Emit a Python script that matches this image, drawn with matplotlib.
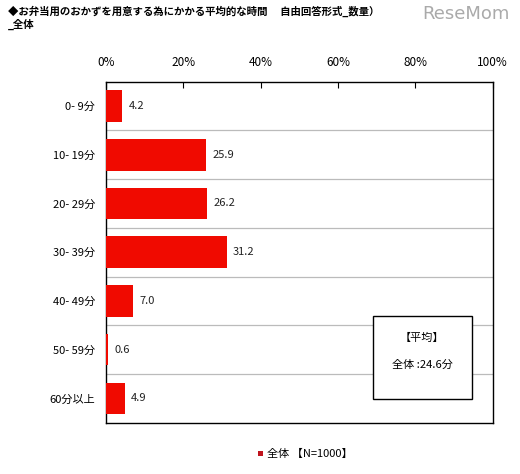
import matplotlib
matplotlib.use("Agg")
import matplotlib.pyplot as plt
from matplotlib.patches import Rectangle

plt.rcParams['font.family'] = ['Noto Sans CJK JP', 'DejaVu Sans']

categories = ["0- 9分", "10- 19分", "20- 29分", "30- 39分", "40- 49分", "50- 59分", "60分以上"]
values = [4.2, 25.9, 26.2, 31.2, 7.0, 0.6, 4.9]
xticks = [0, 20, 40, 60, 80, 100]
xtick_labels = ["0%", "20%", "40%", "60%", "80%", "100%"]
title = "◆お弁当用のおかずを用意する為にかかる平均的な時間　 自由回答形式_数量）\n_全体"
legend_label = "全体 【N=1000】"
mean_title = "【平均】"
mean_text = "全体 :24.6分"

fig = plt.figure(figsize=(5.2, 4.74), dpi=100)
ax = fig.add_axes([106/520, 1-422.7/474, (492.5-106)/520, (422.7-81.7)/474])

n = len(categories)
ypos = list(range(n))
ax.barh(ypos, values, height=0.65, color="#f00a00", zorder=3)
for y, v in zip(ypos, values):
    ax.text(v + 1.6, y, f"{v:.1f}", va="center", ha="left", fontsize=8, color="#222222")

ax.set_xlim(0, 100)
ax.set_ylim(n - 0.5, -0.5)
ax.set_yticks(ypos)
ax.set_yticklabels(categories, fontsize=8)
ax.tick_params(axis="y", length=0, pad=8)
ax.xaxis.tick_top()
ax.set_xticks(xticks)
ax.set_xticklabels(xtick_labels, fontsize=8.5)
ax.tick_params(axis="x", direction="in", length=4, pad=9, width=0.8)
for b in [i + 0.5 for i in range(n - 1)]:
    ax.axhline(b, color="#bbbbbb", lw=0.9, zorder=1)
for s in ax.spines.values():
    s.set_linewidth(1.0)
    s.set_color("black")

# mean box
fig.patches.append(Rectangle((373/520, 1-399/474), (472-373)/520, (399-316)/474,
                             transform=fig.transFigure, facecolor="white",
                             edgecolor="black", lw=1.0, zorder=5))
fig.text(422/520, 1-338/474, mean_title, ha="center", va="center", fontsize=8, zorder=6)
fig.text(422/520, 1-365/474, mean_text, ha="center", va="center", fontsize=8, zorder=6)

# title
fig.text(8/520, 1-6/474, title, ha="left", va="top", fontsize=7.5, fontweight="bold", linespacing=1.2)
fig.text(510/520, 1-14/474, "ReseMom", ha="right", va="center", fontsize=13, color="#aaaaaa",
         family=["DejaVu Sans"])

# legend
fig.patches.append(Rectangle((258/520, 1-456/474), 5/520, 5/474, transform=fig.transFigure,
                             facecolor="#c0141e", edgecolor="none"))
fig.text(267/520, 1-453.5/474, legend_label, ha="left", va="center", fontsize=8)

fig.savefig("out.png", dpi=100)
